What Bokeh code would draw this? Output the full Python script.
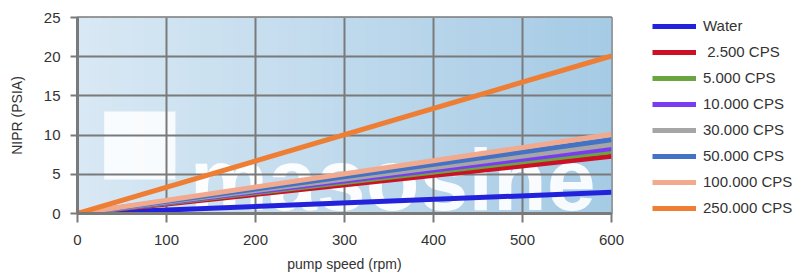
from bokeh.plotting import figure
from bokeh.models import (Legend, LegendItem, FixedTicker, BoxAnnotation, Label,
                          Range1d)
from bokeh.embed import file_html
from bokeh.resources import INLINE

# ---- data ----
speed = [0, 600]
series_names = ["Water", " 2.500 CPS", "5.000 CPS", "10.000 CPS", "30.000 CPS",
                "50.000 CPS", "100.000 CPS", "250.000 CPS"]
nipr_water = [0, 2.7]
nipr_2500 = [0, 7.3]
nipr_5000 = [0, 7.9]
nipr_10000 = [0, 8.3]
nipr_30000 = [0, 8.8]
nipr_50000 = [0, 9.4]
nipr_100000 = [0, 10.1]
nipr_250000 = [0, 20.1]
series_values = [nipr_water, nipr_2500, nipr_5000, nipr_10000, nipr_30000,
                 nipr_50000, nipr_100000, nipr_250000]
colors = ["#2222dd", "#cc1126", "#6aa63f", "#7a3cf2", "#a6a6a6",
          "#4472c4", "#f2aa8e", "#ee7e33"]
x_ticks = [0, 100, 200, 300, 400, 500, 600]
y_ticks = [0, 5, 10, 15, 20, 25]

FONT = "Liberation Sans"
GRID = "#7a7a7a"

p = figure(frame_width=534, frame_height=196, output_backend="svg",
           toolbar_location=None,
           x_range=Range1d(0, 600), y_range=Range1d(0, 25),
           min_border_left=77, min_border_top=17, min_border_bottom=63,
           min_border_right=182)
p.background_fill_color = "#c0dbee"
p.border_fill_color = "white"
p.outline_line_color = GRID
p.outline_line_width = 2.5

# gradient background (decoration)
n = 48
c0 = (216, 232, 244)
c1 = (166, 203, 229)
for i in range(n):
    t = i / (n - 1)
    col = "#%02x%02x%02x" % tuple(int(round(a + (b - a) * t)) for a, b in zip(c0, c1))
    p.add_layout(BoxAnnotation(left=600 * i / n, right=600 * (i + 1) / n + 0.5,
                               fill_color=col, fill_alpha=1, line_color=None,
                               level="image"))

# watermark
p.add_layout(BoxAnnotation(left=30, right=110, bottom=4.35, top=13.0,
                           fill_color="white", fill_alpha=0.85, line_color=None,
                           level="image"))
p.add_layout(Label(x=126, y=4.4, text="masosine", text_font=FONT,
                   text_font_size="88px", text_font_style="bold",
                   text_color="white", text_alpha=0.92, text_baseline="alphabetic",
                   level="image"))

renderers = []
for name, vals, col in zip(series_names, series_values, colors):
    r = p.line(speed, vals, line_color=col, line_width=5)
    renderers.append(r)

# grid
p.xgrid.ticker = FixedTicker(ticks=x_ticks)
p.ygrid.ticker = FixedTicker(ticks=y_ticks)
for g in (p.xgrid, p.ygrid):
    g.grid_line_color = GRID
    g.grid_line_width = 2

# axes
p.xaxis.ticker = FixedTicker(ticks=x_ticks)
p.yaxis.ticker = FixedTicker(ticks=y_ticks)
for ax in (p.xaxis, p.yaxis):
    ax.axis_line_color = GRID
    ax.axis_line_width = 3
    ax.major_tick_line_color = GRID
    ax.major_tick_line_width = 2
    ax.major_tick_in = 0
    ax.minor_tick_line_color = None
    ax.major_label_text_font = FONT
    ax.major_label_text_font_size = "15px"
    ax.major_label_text_color = "#333333"
    ax.axis_label_text_font = FONT
    ax.axis_label_text_font_size = "14px"
    ax.axis_label_text_font_style = "normal"
    ax.axis_label_text_color = "#333333"
p.xaxis.major_tick_out = 9
p.yaxis.major_tick_out = 7
p.xaxis.major_label_standoff = 12
p.yaxis.major_label_standoff = 10
p.xaxis.axis_label = "pump speed (rpm)"
p.yaxis.axis_label = "NIPR (PSIA)"
p.xaxis.axis_label_standoff = 8
p.yaxis.axis_label_standoff = 16

legend = Legend(items=[LegendItem(label=nm, renderers=[r])
                       for nm, r in zip(series_names, renderers)],
                location=(41, -3), glyph_width=44, glyph_height=16,
                label_height=16, label_standoff=7, spacing=9, padding=0,
                margin=0, nrows=8, ncols=1,
                border_line_color=None, background_fill_alpha=0,
                label_text_font=FONT, label_text_font_size="15px",
                label_text_color="#333333")
p.add_layout(legend, "right")

open("out.html", "w").write(file_html(p, INLINE))
